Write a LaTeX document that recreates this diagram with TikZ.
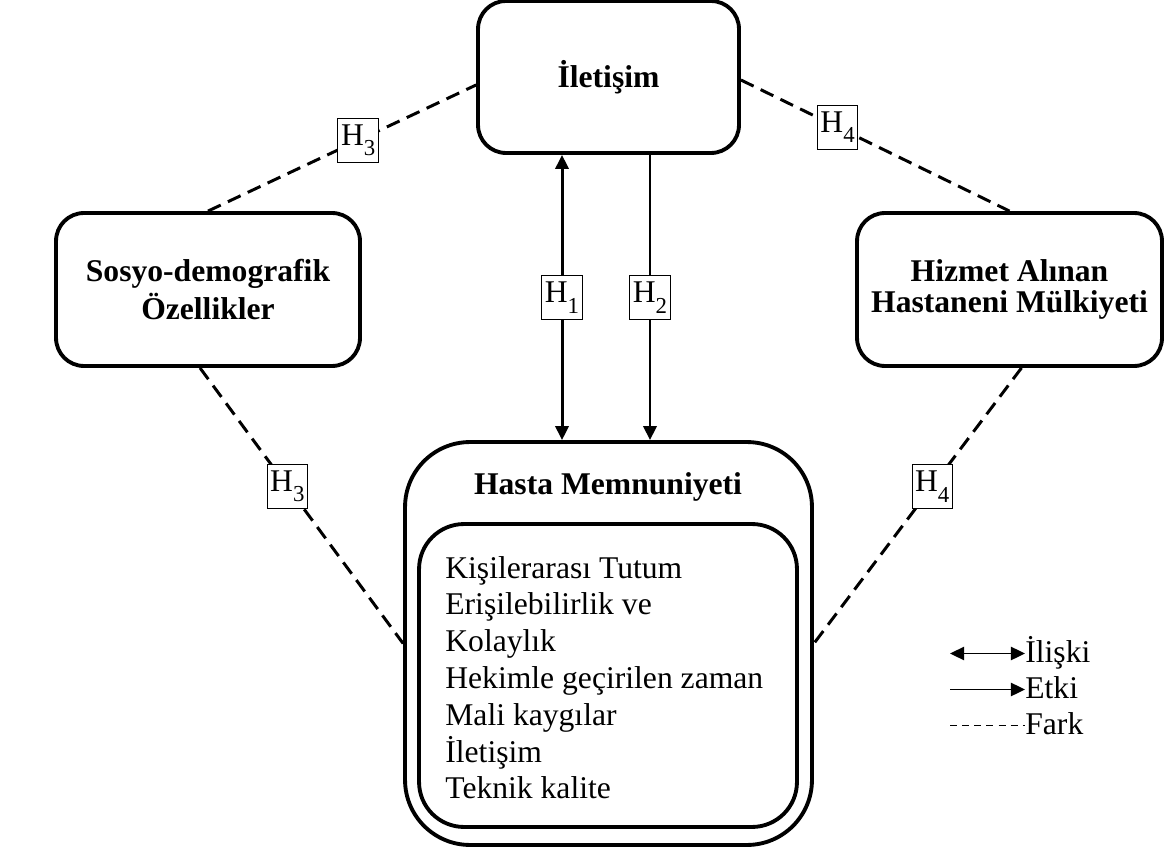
\documentclass[tikz,border=0pt]{standalone}
\usepackage{fontspec}
\setmainfont{Liberation Serif}
\usetikzlibrary{arrows.meta}
\newcommand{\hyp}[1]{H\raisebox{-6pt}{\fontsize{13}{13}\selectfont #1}}

\begin{document}
\begin{tikzpicture}[x=0.02cm, y=-0.02cm,
	every node/.style={font=\fontsize{18}{21}\selectfont},
	box/.style={draw, line width=2.2pt, rounded corners=0.56cm, align=center, font=\fontsize{18}{18}\selectfont\bfseries},
	hbox/.style={draw, solid, line width=0.6pt, fill=white, inner sep=1pt, minimum width=23pt, minimum height=25pt},
	rel/.style={line width=1.7pt, {Triangle[length=8pt,width=7.5pt]}-{Triangle[length=8pt,width=7.5pt]}},
	eff/.style={line width=1.7pt, -{Triangle[length=8pt,width=7.5pt]}},
	diff/.style={line width=1.7pt, dash pattern=on 8pt off 4.5pt}]
	\useasboundingbox (0,0) rectangle (1168,857);

	% boxes
	\node[box, minimum width=5.22cm, minimum height=3.04cm] (iletisim) at (608.5,77) {İletişim};
	\node[box, minimum width=6.08cm, minimum height=3.06cm, font=\fontsize{18}{21.5}\selectfont\bfseries] (sosyo) at (208,289.5) {Sosyo-demografik\\Özellikler};
	\node[box, minimum width=6.1cm, minimum height=3.06cm] (hizmet) at (1009.5,289.5) {Hizmet Alınan\\Hastaneni Mülkiyeti};
	\node[box, rounded corners=1.3cm, minimum width=8.14cm, minimum height=8.06cm] (hasta) at (608.5,643.5) {};
	\node[box, rounded corners=0.9cm, minimum width=7.56cm, minimum height=6.06cm] (boyut) at (608,675.5) {};
	\node[font=\fontsize{18}{18}\selectfont\bfseries, anchor=base] (baslik) at (608,494) {Hasta Memnuniyeti};
	\foreach \i/\t in {0/Kişilerarası Tutum, 1/Erişilebilirlik ve, 2/Kolaylık, 3/Hekimle geçirilen zaman, 4/Mali kaygılar, 5/İletişim, 6/Teknik kalite}{
		\node[anchor=base west, inner sep=0] (boyut\i) at (445,{578+36.8*\i}) {\t};
	}

	% hypotheses
	\draw[rel] ([xshift=-0.93cm]iletisim.south) -- node[hbox]{\hyp{1}} ([xshift=-0.93cm]hasta.north);
	\draw[eff] ([xshift=0.83cm]iletisim.south) -- node[hbox]{\hyp{2}} ([xshift=0.83cm]hasta.north);
	\draw[diff] (sosyo.north) -- node[hbox, pos=0.56]{\hyp{3}} ([yshift=-0.16cm]iletisim.west);
	\draw[diff] ([yshift=-0.06cm]iletisim.east) -- node[hbox, pos=0.36]{\hyp{4}} (hizmet.north);
	\draw[diff] ([xshift=-0.16cm]sosyo.south) -- node[hbox, pos=0.43]{\hyp{3}} (hasta.west);
	\draw[diff] ([xshift=0.24cm]hizmet.south) -- node[hbox, pos=0.43]{\hyp{4}} (hasta.east);

	% legend
	\foreach \n/\t/\y in {iliski/İlişki/662, etki/Etki/698, fark/Fark/734}{
		\node[anchor=base west, inner sep=0] (\n) at (1025,\y) {\t};
		\coordinate (\n0) at (950,{\y-8.5});
	}
	\draw[rel, line width=1.1pt] (iliski0) -- (iliski0 -| iliski.west);
	\draw[eff, line width=1.1pt] (etki0) -- (etki0 -| etki.west);
	\draw[line width=0.9pt, dash pattern=on 4pt off 2.9pt] (fark0) -- (fark0 -| fark.west);
\end{tikzpicture}
\end{document}
